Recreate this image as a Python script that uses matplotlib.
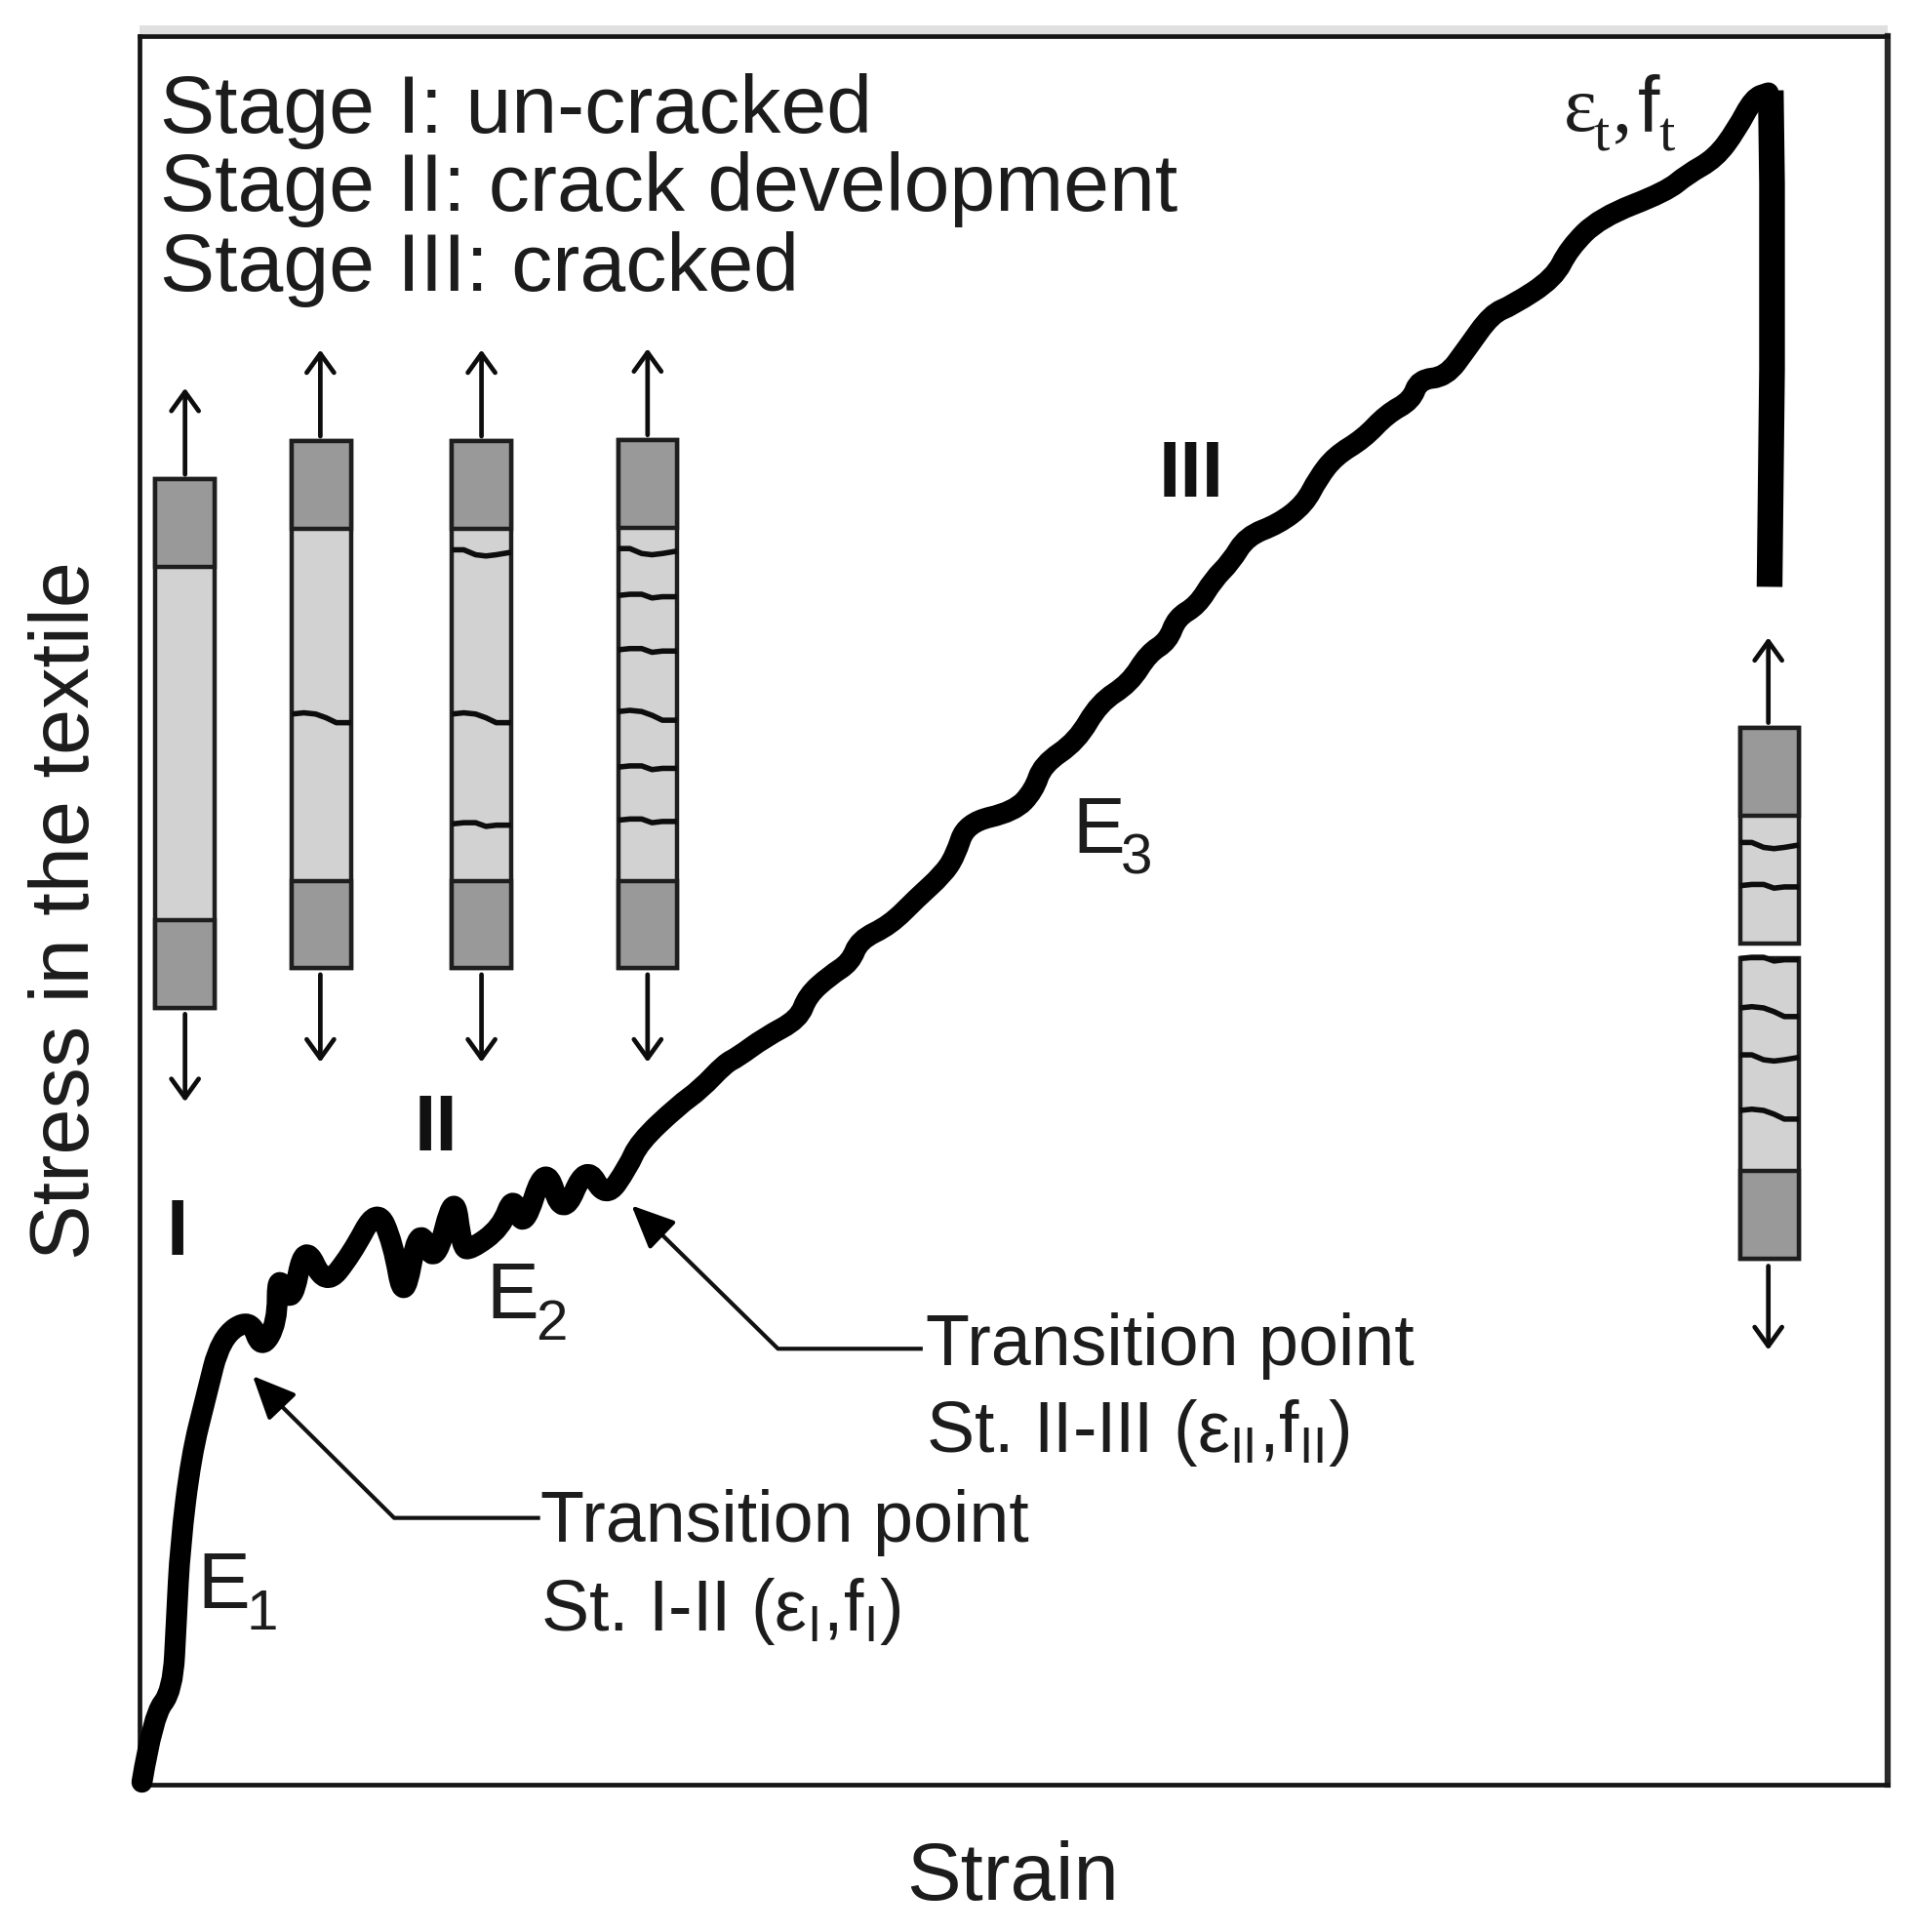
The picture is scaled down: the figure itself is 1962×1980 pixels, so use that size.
import matplotlib
matplotlib.use("Agg")
import matplotlib.pyplot as plt
from matplotlib.patches import Rectangle, PathPatch
from matplotlib.path import Path

plt.rcParams['font.family'] = ['Liberation Sans', 'DejaVu Sans']
plt.rcParams['mathtext.fontset'] = 'custom'
plt.rcParams['mathtext.rm'] = 'Liberation Sans'
plt.rcParams['mathtext.default'] = 'rm'

# Curva (strain, stress)
strain = [2, 11, 27, 30, 33, 42, 54, 66, 90, 99, 112, 112, 124, 134, 151, 172, 193, 206, 215, 227,
          240, 256, 262, 269, 294, 304, 312, 330, 344, 363, 379, 397, 406, 438, 456, 476, 486,
          508, 536, 543, 561, 578, 585, 610, 632, 653, 663, 672, 711, 727, 734, 762, 780, 805,
          820, 836, 843, 860, 873, 887, 900, 926, 947, 958, 972, 995, 1014, 1034, 1040, 1062,
          1079, 1099, 1116, 1150, 1162, 1187, 1241, 1258, 1281, 1298, 1312, 1324]
stress = [2, 56, 76, 133, 193, 266, 314, 362, 378, 352, 374, 415, 387, 440, 403, 429, 468, 439,
          388, 455, 418, 482, 435, 433, 451, 478, 448, 505, 458, 503, 474, 500, 520, 550, 563,
          584, 589, 605, 620, 639, 655, 666, 684, 696, 718, 737, 752, 779, 788, 805, 826, 845,
          876, 892, 916, 926, 945, 955, 976, 990, 1011, 1021, 1037, 1058, 1076, 1090, 1110,
          1121, 1138, 1140, 1163, 1191, 1198, 1220, 1244, 1269, 1290, 1304, 1317, 1340, 1366, 1370]
drop_strain = [1326, 1327, 1327, 1325]
drop_stress = [1372, 1296, 1146, 970]

# Probetas: centro, arriba, abajo
spec_center = [37, 148, 278, 413]
arrow_center = [37, 147, 278, 413]
spec_top = [1057, 1088, 1088, 1089]
spec_bottom = [629, 661, 661, 661]
grip_h = 71
spec_halfw = 24

# Grietas (posicion en stress de cada grieta por probeta)
cracks = [[], [864], [998, 864, 778], [999, 963, 919, 866, 824, 781]]
crack_dx = [-1.0, -0.6, -0.2, 0.15, 0.5, 1.0]
crack_dy = [[2, 2, -2, -3, -2, 0], [3, 4, 3, 0, -4, -4], [0, 1, 1, -2, -1, -1]]
crack_kind = [[], [1], [0, 1, 2], [0, 2, 2, 1, 2, 2]]

# Probeta rota de la derecha
last_center = 1325
last_arrow = 1324
last_upper = (856, 681)
last_lower = (669, 426)
last_cracks = [761, 728, 669, 626, 589, 543]
last_crack_kind = [0, 2, 2, 1, 0, 1]

GRIP = '#999999'
BODY = '#d2d2d2'
EDGE = '#1e1e1e'

W, H = 1962, 1980
fig = plt.figure(figsize=(W / 100, H / 100), dpi=100)
ax = fig.add_axes([143 / W, 1 - 1829 / H, 1792 / W, 1792 / H])
ax.set_xlim(0, 1421)
ax.set_ylim(0, 1416)
ax.set_xticks([])
ax.set_yticks([])
for s in ax.spines.values():
    s.set_linewidth(3.4)
    s.set_color('#151515')
ax.spines['right'].set_linewidth(4.5)
ax.spines['right'].set_color('#2a2a2a')

# Banda gris de arriba
ax.add_patch(Rectangle((0, 1416), 1421, 9, fc='#e0e0e0', ec='none', clip_on=False, zorder=1))


def draw_crack(x0, y0, kind):
    xs = [x0 + d * spec_halfw for d in crack_dx]
    ys = [y0 + d for d in crack_dy[kind]]
    ax.plot(xs, ys, color='#0d0d0d', lw=4, solid_capstyle='butt', zorder=4)


def draw_arrow(x, y0, y1):
    ax.annotate('', xy=(x, y1), xytext=(x, y0), zorder=5,
                arrowprops=dict(arrowstyle='->,head_length=0.5,head_width=0.36', lw=3.4,
                                color='#0d0d0d', shrinkA=0, shrinkB=0, mutation_scale=28))


def draw_part(x0, top, bottom, grip_top, grip_bottom):
    ax.add_patch(Rectangle((x0 - spec_halfw, bottom), 2 * spec_halfw, top - bottom,
                           fc=BODY, ec=EDGE, lw=3.2, zorder=3))
    if grip_top:
        ax.add_patch(Rectangle((x0 - spec_halfw, top - grip_h), 2 * spec_halfw, grip_h,
                               fc=GRIP, ec=EDGE, lw=3.2, zorder=3))
    if grip_bottom:
        ax.add_patch(Rectangle((x0 - spec_halfw, bottom), 2 * spec_halfw, grip_h,
                               fc=GRIP, ec=EDGE, lw=3.2, zorder=3))


for i in range(len(spec_center)):
    cx = spec_center[i]
    draw_part(cx, spec_top[i], spec_bottom[i], True, True)
    for c, k in zip(cracks[i], crack_kind[i]):
        draw_crack(cx, c, k)
    draw_arrow(arrow_center[i], spec_top[i] + 4, spec_top[i] + 74)
    draw_arrow(arrow_center[i], spec_bottom[i] - 5, spec_bottom[i] - 76)

draw_part(last_center, last_upper[0], last_upper[1], True, False)
draw_part(last_center, last_lower[0], last_lower[1], False, True)
for c, k in zip(last_cracks, last_crack_kind):
    draw_crack(last_center, c, k)
draw_arrow(last_arrow, last_upper[0] + 4, last_upper[0] + 73)
draw_arrow(last_arrow, last_lower[1] - 6, last_lower[1] - 74)

# Curva principal: cada punto hace de control para redondear las esquinas
verts = [(strain[0], stress[0])]
codes = [Path.MOVETO]
for i in range(1, len(strain) - 1):
    verts.append((strain[i], stress[i]))
    verts.append(((strain[i] + strain[i + 1]) / 2, (stress[i] + stress[i + 1]) / 2))
    codes += [Path.CURVE3, Path.CURVE3]
verts.append((strain[-1], stress[-1]))
codes.append(Path.LINETO)
ax.add_patch(PathPatch(Path(verts, codes), fc='none', ec='black', lw=15.5, capstyle='round',
                       joinstyle='round', clip_on=False, zorder=6))
ax.plot(drop_strain, drop_stress, color='black', lw=19, solid_joinstyle='round',
        solid_capstyle='butt', zorder=6)

# Flechas de los puntos de transicion
line_1x = [324, 207, 115]
line_1y = [216, 216, 307]
line_2x = [635, 519, 423]
line_2y = [353, 353, 447]
for lx, ly, tip in [(line_1x, line_1y, (92, 331)), (line_2x, line_2y, (400, 469))]:
    ax.plot(lx, ly, color='#111111', lw=3, zorder=5)
    ax.annotate('', xy=tip, xytext=(lx[2], ly[2]), zorder=5,
                arrowprops=dict(arrowstyle='-|>,head_length=0.8,head_width=0.36', lw=3,
                                color='black', shrinkA=0, shrinkB=0, mutation_scale=34))

TXT = '#1c1c1c'
FS = 60.6
ax.text(17, 1355, 'Stage I: un-cracked', fontsize=FS, color=TXT, va='center')
ax.text(17, 1292, 'Stage II: crack development', fontsize=FS, color=TXT, va='center')
ax.text(17, 1227, 'Stage III: cracked', fontsize=FS, color=TXT, va='center')

ax.text(710, -76, 'Strain', fontsize=60, color=TXT, ha='center', va='center', clip_on=False)
ax.text(-59, 708, 'Stress in the textile', fontsize=61, color=TXT, rotation=90, ha='center',
        va='center', clip_on=False)

ax.text(855, 1060, 'III', fontsize=58, fontweight='bold', color='#111111', ha='center', va='center')
ax.text(241, 530, 'II', fontsize=58, fontweight='bold', color='#111111', ha='center', va='center')
ax.text(31, 446, 'I', fontsize=58, fontweight='bold', color='#111111', ha='center', va='center')


def e_label(x, y, sub):
    ax.text(x, y, 'E', fontsize=58, color=TXT, va='baseline')
    ax.annotate(sub, xy=(x, y), xytext=(36, -16), textcoords='offset points', fontsize=42,
                color=TXT, va='baseline')


e_label(47, 143, '1')
e_label(282, 378, '2')
e_label(758, 755, '3')

# Etiqueta de rotura: cada pieza por separado
peak_x = [1158, 1182, 1197, 1218, 1235]
peak_y = [1339, 1323, 1339, 1339, 1323]
peak_txt = ['ε', 't', ',', 'f', 't']
peak_fs = [58, 42, 58, 58, 42]
peak_fam = ['Liberation Serif', 'Liberation Serif', 'Liberation Serif', 'Liberation Sans', 'Liberation Serif']
for px, py, pt, pf, fam in zip(peak_x, peak_y, peak_txt, peak_fs, peak_fam):
    ax.text(px, py, pt, fontsize=pf, family=fam, color=TXT, va='baseline')

ax.text(326, 212, 'Transition point', fontsize=53, color=TXT, va='center')
ax.text(326, 140, r'St. I-II (ε$_{I}$,f$_{I}$)', fontsize=53, color=TXT, va='center')
ax.text(639, 355, 'Transition point', fontsize=53, color=TXT, va='center')
ax.text(639, 285, r'St. II-III (ε$_{II}$,f$_{II}$)', fontsize=53, color=TXT, va='center')

fig.savefig('out.png', dpi=100, facecolor='white')
